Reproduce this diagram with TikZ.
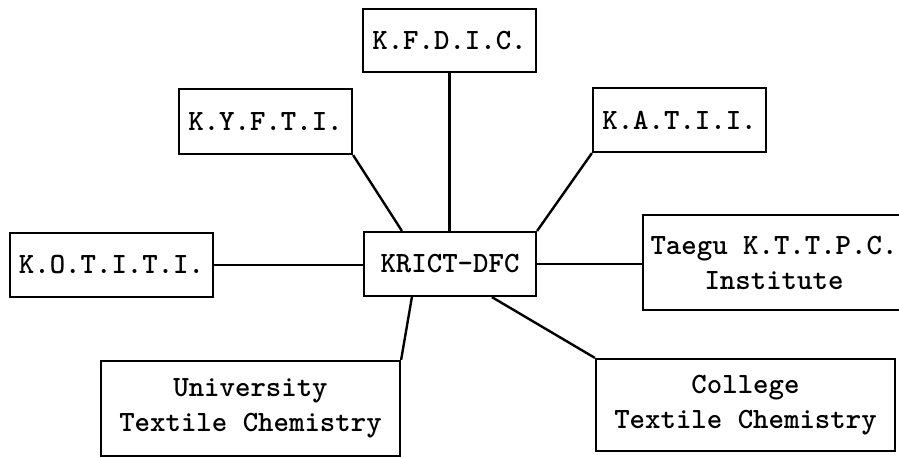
\documentclass[tikz,border=0pt]{standalone}
\usepackage{tikz}
\usetikzlibrary{positioning}
\tikzstyle{orgbox} = [rectangle, draw=black, line width=1.1pt, inner sep=0pt, align=center, font=\ttfamily\bfseries\fontsize{14.7}{17.5}\selectfont]
\tikzstyle{link} = [line width=1.2pt, color=black]

\begin{document}
\begin{tikzpicture}[x=0.5pt, y=-0.5pt]
\useasboundingbox (0,0) rectangle (899,457);
% Centre
\node[orgbox, minimum width=86pt, minimum height=32pt] (krict) at (450,264) {KRICT-DFC};
% Upper row
\node[orgbox, minimum width=86.5pt, minimum height=31.5pt] (kfdic) at (449.5,40.5) {K.F.D.I.C.};
\node[orgbox, minimum width=86.5pt, minimum height=32.5pt] (kyfti) at (265.5,121.5) {K.Y.F.T.I.};
\node[orgbox, minimum width=86.5pt, minimum height=32pt] (katii) at (679.5,120) {K.A.T.I.I.};
% Sides
\node[orgbox, minimum width=101.5pt, minimum height=32pt] (kotiti) at (111.5,265) {K.O.T.I.T.I.};
\node[orgbox, minimum width=131pt, minimum height=47.5pt] (taegu) at (774,262.5) {Taegu K.T.T.P.C.\\Institute};
% Lower row
\node[orgbox, minimum width=149.5pt, minimum height=47.5pt] (univ) at (250.5,408.5) {University\\Textile Chemistry};
\node[orgbox, minimum width=149.5pt, minimum height=46pt] (college) at (745.5,405) {College\\Textile Chemistry};
% Links
\draw[link] (kyfti.south east) -- ([xshift=19.5pt]krict.north west);
\draw[link] (kfdic.south) -- (kfdic.south |- krict.north);
\draw[link] (katii.south west) -- (krict.north east);
\draw[link] (kotiti.east) -- (kotiti.east -| krict.west);
\draw[link] (krict.east) -- (krict.east -| taegu.west);
\draw[link] ([xshift=24.5pt]krict.south west) -- (univ.north east);
\draw[link] ([xshift=64.5pt]krict.south west) -- (college.north west);
\end{tikzpicture}
\end{document}
